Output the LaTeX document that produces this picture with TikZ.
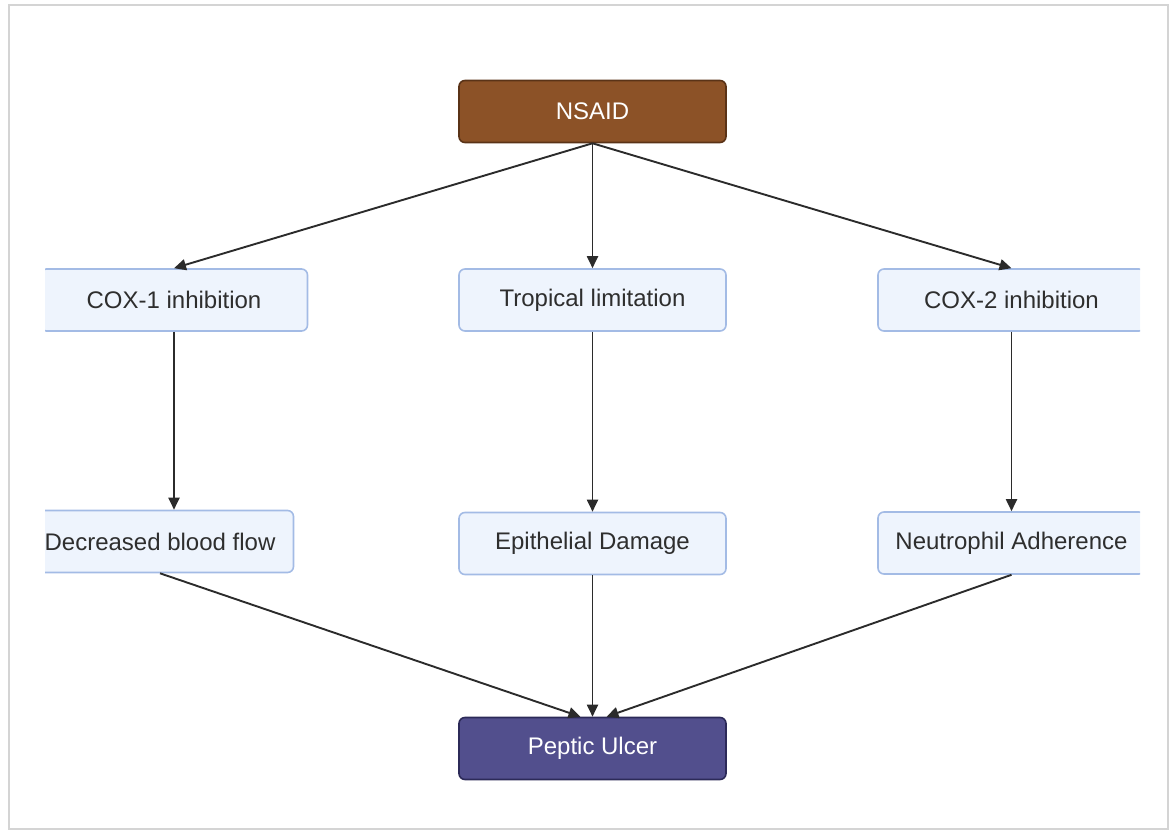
\documentclass[tikz,border=0pt]{standalone}
\usepackage{fontspec}
\setmainfont{Liberation Sans}
\usetikzlibrary{arrows.meta}
\definecolor{nsaidbrown}{HTML}{8C5227}
\definecolor{nsaidline}{HTML}{5A3317}
\definecolor{ulcerblue}{HTML}{524F8D}
\definecolor{ulcerline}{HTML}{2C2A58}
\definecolor{boxfill}{HTML}{EEF4FD}
\definecolor{boxline}{HTML}{A3BBE5}
\definecolor{textgray}{HTML}{2E2E2E}
\definecolor{arrowgray}{HTML}{2B2B2B}
\definecolor{framegray}{HTML}{D4D4D4}
\begin{document}
\begin{tikzpicture}[x=1pt,y=-1pt]
	\tikzstyle{every node}+=[font=\fontsize{24}{28}\selectfont]
	\tikzstyle{stepbox}=[draw=boxline, fill=boxfill, rounded corners=6pt, line width=1.6pt, minimum width=267pt, minimum height=62pt, inner sep=0pt, text=textgray]
	\tikzstyle{endbox}=[stepbox, text=white]
	\tikzstyle{arrow}=[-{Triangle[length=12pt,width=11pt]}, line width=1.9pt, draw=arrowgray, fill=arrowgray]
	\useasboundingbox (0,0) rectangle (1172,832);
	\draw [framegray, line width=2pt] (9,5) rectangle (1168,829);
	% boxes, cut off at the sides
	\begin{scope}
		\clip (45,0) rectangle (1140,832);
		\node [endbox, fill=nsaidbrown, draw=nsaidline] (nsaid) at (592.5,111.5) {NSAID};
		\node [stepbox] (cox1) at (174,300) {COX-1 inhibition};
		\node [stepbox] (trop) at (592.5,300) {Tropical limitation};
		\node [stepbox] (cox2) at (1011.5,300) {COX-2 inhibition};
		\node [stepbox] (dbf) at (160,541.5) {Decreased blood flow};
		\node [stepbox] (epi) at (592.5,543.5) {Epithelial Damage};
		\node [stepbox] (neut) at (1011.5,543) {Neutrophil Adherence};
		\node [endbox, fill=ulcerblue, draw=ulcerline] (ulcer) at (592.5,748.5) {Peptic Ulcer};
	\end{scope}
	\draw [arrow] (nsaid.south) -- (cox1.north);
	\draw [arrow] (nsaid.south) -- (trop.north);
	\draw [arrow] (nsaid.south) -- (cox2.north);
	\draw [arrow] (cox1.south) -- (cox1.south |- dbf.north);
	\draw [arrow] (trop.south) -- (epi.north);
	\draw [arrow] (cox2.south) -- (neut.north);
	\draw [arrow] (dbf.south) -- ([xshift=-12pt]ulcer.north);
	\draw [arrow] (epi.south) -- (ulcer.north);
	\draw [arrow] (neut.south) -- ([xshift=14pt]ulcer.north);
\end{tikzpicture}
\end{document}
